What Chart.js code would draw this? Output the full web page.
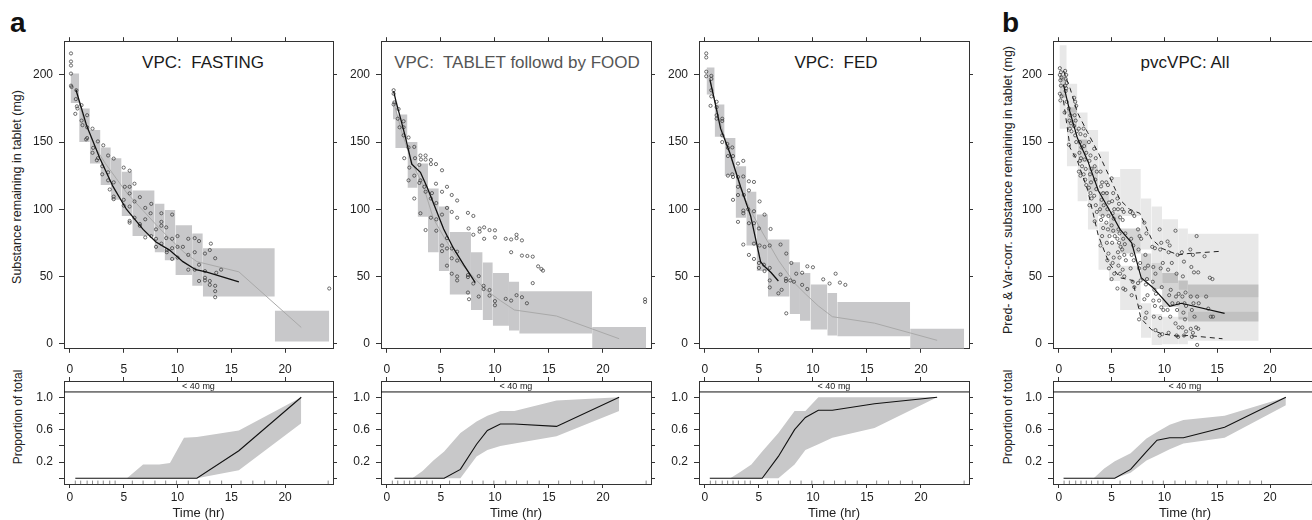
<!DOCTYPE html>
<html>
<head>
<meta charset="utf-8">
<script src="https://cdn.jsdelivr.net/npm/chart.js@4.4.1/dist/chart.umd.min.js"></script>
<style>
  body { margin: 0; width: 1312px; height: 520px; overflow: hidden; background: #fff; position: relative;
         font-family: "Liberation Sans", Arial, sans-serif; color: #222; }
  canvas { position: absolute; }
  .letter { position: absolute; top: 9px; font-size: 28px; font-weight: bold; line-height: 1; color: #111; }
  .ttl { position: absolute; top: 54px; font-size: 17px; line-height: 1; white-space: pre; transform: translateX(-50%); color: #1a1a1a; }
  .ytitle { position: absolute; white-space: nowrap; line-height: 1; transform: translate(-50%, -50%) rotate(-90deg); color: #222; }
  .strip { position: absolute; top: 381px; height: 11px; line-height: 11px; font-size: 9px; text-align: center; color: #222; }
</style>
</head>
<body>
<div class="letter" style="left:10px">a</div>
<div class="letter" style="left:1002px">b</div>

<div class="ttl" style="left:203px">VPC:  FASTING</div>
<div class="ttl" style="left:517px;color:#555">VPC:  TABLET followd by FOOD</div>
<div class="ttl" style="left:836px">VPC:  FED</div>
<div class="ttl" style="left:1185px">pvcVPC: All</div>

<div class="ytitle" style="left:17px;top:187px;font-size:12.5px">Substance remaining in tablet (mg)</div>
<div class="ytitle" style="left:1008px;top:190px;font-size:12.5px">Pred- &amp; Var-corr. substance remaining in tablet (mg)</div>
<div class="ytitle" style="left:18px;top:417px;font-size:12px">Proportion of total</div>
<div class="ytitle" style="left:1008px;top:417px;font-size:12px">Proportion of total</div>

<script>
//----------------------------------DATA-------------------------------------

const timeTicks = [0, 5, 10, 15, 20];
const amountTicks = [0, 50, 100, 150, 200];
const propTicks = [0, 0.2, 0.4, 0.6, 0.8, 1.0];
const propTickLabels = ['', '0.2', '', '0.6', '', '1.0'];
const rugTimes = [0.5, 1, 1.6, 2.1, 2.6, 3.1, 3.7, 4.2, 5.8, 6.8, 7.9, 8.9, 9.9, 11, 12, 13, 14.1, 15.9, 17, 18.1, 19.2, 24];

// FASTING
const fastBinStart = [0.06, 0.86, 1.85, 2.84, 3.8, 4.8, 5.8, 7.87, 8.8, 9.8, 11.36, 12.35, 19.04];
const fastBinEnd   = [0.86, 1.85, 2.84, 3.8, 4.8, 5.8, 7.87, 8.8, 9.8, 11.36, 12.35, 19.04, 24.1];
const fastCiLow    = [179, 150, 134, 118, 107, 95, 80, 68, 62, 51, 43, 35, 1.5];
const fastCiHigh   = [201, 175, 159, 146, 138, 128, 114, 104, 99.5, 88, 82, 71, 24.4];
const fastSimTime  = [0.5, 1.35, 2.35, 3.3, 4.3, 5.3, 6.8, 8.3, 9.3, 10.6, 11.8, 15.7, 21.5];
const fastSimMed   = [190, 165, 146, 134, 123, 112, 99, 86, 78, 68, 61, 53.4, 12];
const fastObsTime  = [0.56, 1.54, 2.78, 4.0, 5.25, 6.8, 8.0, 9.26, 10.5, 11.7, 12.65, 15.7];
const fastObsMed   = [189, 162.6, 138, 117, 100, 85, 75.6, 69.6, 61, 55, 53.4, 46];
const fastPoints = [
  [0.1,216],[0.1,210],[0.1,207],[0.1,201],[0.1,192],[0.15,191],[0.6,188.6],[0.55,182],[0.65,176.6],[0.5,171],[0.7,175],
  [1.08,177.5],[1.6,170],[1.08,166],[1.17,162.6],[1.6,161],[2.1,160],[1.6,153],[1.5,152],
  [2.16,145.7],[2.1,142],[2.6,150.5],[3.1,147.6],[2.6,138],[2.5,136.5],[3.55,140],[4.07,137.7],[3.0,132],[3.0,126],
  [3.55,127.5],[3.55,121.5],[3.7,114.7],[4.07,120],[4.07,109.4],[4.07,107.5],
  [5.0,131],[5.55,128.7],[5.1,116.7],[5.55,116.7],[6.0,119],[5.55,111.8],[5.0,107],[5.0,102.7],[5.55,102],[6.0,105.8],
  [5.55,91.3],[5.55,90],[6.0,93.7],[6.5,109],[6.5,89],[6.5,87.7],[7.0,101],[7.56,104],[7.0,92.5],[7.5,97],[7.0,79],
  [7.56,80],[8.0,85],[8.0,78],[8.0,72],[8.5,97],[8.5,90.6],[8.5,87.7],[8.95,86.5],[8.5,74.4],[8.95,78.5],[9.0,69.6],
  [9.0,68],[9.5,96],[9.5,78],[9.5,71],[9.5,63],[10.0,80],[10.0,72],[10.0,64],[10.5,72],[11.0,78],[11.6,78.5],[12.0,76.3],
  [11.0,66],[11.6,68],[11.0,55],[11.6,55],[12.0,58.7],[12.0,46.6],[12.55,53.9],[12.55,49],[12.55,47],[12.55,67],
  [13.1,74.4],[13.0,69.6],[13.0,46.6],[13.0,43.7],[13.5,63.5],[13.5,43],[13.5,39],[13.5,34.5],[13.6,52.7],[14.05,55],[24.1,41]
];
const fastPropTime = [0.5, 1.35, 2.35, 3.3, 4.3, 5.3, 6.8, 8.3, 9.3, 10.6, 11.8, 15.7, 21.5];
const fastPropObs  = [0, 0, 0, 0, 0, 0, 0, 0, 0, 0, 0, 0.34, 1.0];
const fastPropHigh = [0, 0, 0, 0, 0, 0, 0.17, 0.17, 0.19, 0.5, 0.51, 0.59, 1.0];
const fastPropLow  = [0, 0, 0, 0, 0, 0, 0, 0, 0, 0, 0, 0.1, 0.68];

// TABLET followed by FOOD
const tabBinStart = [0.56, 0.77, 1.9, 2.84, 3.8, 4.8, 5.8, 7.78, 8.86, 9.8, 11.3, 12.25, 19.0];
const tabBinEnd   = [0.98, 1.9, 2.84, 3.8, 4.8, 5.8, 7.78, 8.86, 9.8, 11.3, 12.25, 19.0, 24.0];
const tabCiLow    = [167, 145.6, 116, 94.5, 68, 54, 36.5, 25, 17.6, 13.3, 9.7, 7.5, -3.4];
const tabCiHigh   = [180, 170.5, 150, 134, 115.5, 102, 83, 68, 60.4, 52.6, 46, 39, 12.3];
const tabSimTime  = [0.75, 1.35, 2.35, 3.3, 4.3, 5.3, 6.8, 8.3, 9.3, 10.5, 11.8, 15.7, 21.5];
const tabSimMed   = [176, 158, 134, 119, 93, 79, 60, 47, 39, 32, 25, 20.5, 3.6];
const tabObsTime  = [0.62, 0.86, 1.23, 1.7, 2.3, 3.1, 3.7, 4.3, 5.25, 6.17, 7.1, 8.18];
const tabObsMed   = [188, 179.5, 168.6, 154, 133.6, 127.5, 116.7, 104.6, 85.3, 70.8, 58.7, 45.4];
const tabPoints = [
  [0.62,188.6],[0.62,186],[0.68,179.5],[0.62,178],[1.08,174.6],[1.0,167.4],[1.17,161],[1.54,165.5],[1.54,161],[1.54,155],
  [2.0,153.4],[2.0,146],[2.53,146.4],[1.6,138],[2.6,138],[2.07,131],[3.1,140],[3.15,137],[3.58,140],[3.58,137],[4.07,136.7],
  [4.07,133.6],[4.54,133.6],[5.1,129],[3.0,133],[2.53,125],[2.0,121.5],[3.1,121.5],[3.0,119.6],[3.46,116.7],[4.17,112],
  [4.54,119],[5.1,113],[5.56,116.7],[2.53,108],[3.1,97],[4.07,108],[3.58,113],[4.07,93.7],[4.57,104.6],[4.57,92.5],[5.1,96],
  [5.56,101],[6.0,98],[6.5,93.7],[6.0,110.6],[6.5,106.5],[3.58,84.5],[4.57,84],[5.1,73],[5.1,68.8],[5.56,78.5],[5.56,70.8],
  [6.0,70.8],[6.0,63.5],[6.5,68.4],[6.5,61.8],[5.56,58],[6.0,52],[6.5,50],[6.5,47],[7.5,97.3],[8.0,95],[7.56,85.7],[8.0,81],
  [8.58,83.3],[8.58,85.7],[9.0,86.5],[9.5,84.5],[10.0,84.3],[9.0,78],[10.0,79],[11.0,78],[11.5,77.5],[12.0,81],[12.0,78.5],
  [12.5,76.8],[11.5,68],[12.5,65.5],[13.0,65.2],[13.5,64.7],[14.0,57.5],[14.45,54.3],[14.3,55.5],[13.5,45],[7.5,51],[7.5,49.5],
  [8.0,44.7],[8.5,50.2],[7.5,38],[7.6,33],[8.5,35],[8.95,43],[8.95,40.6],[9.5,39.9],[9.5,35.7],[10.0,31.6],[10.0,28.5],
  [11.0,33.3],[11.5,32],[12.0,36],[12.5,34.5],[12.96,30],[23.9,33],[23.9,31]
];
const tabPropTime = [0.7, 1.35, 2.35, 3.3, 4.3, 5.3, 6.8, 8.3, 9.3, 10.5, 11.8, 15.7, 21.5];
const tabPropObs  = [0, 0, 0, 0, 0, 0, 0.11, 0.42, 0.59, 0.67, 0.67, 0.64, 1.0];
const tabPropHigh = [0, 0, 0, 0.09, 0.22, 0.33, 0.56, 0.7, 0.77, 0.83, 0.83, 0.96, 1.0];
const tabPropLow  = [0, 0, 0, 0, 0, 0, 0, 0.27, 0.35, 0.4, 0.43, 0.52, 0.83];

// FED
const fedBinStart = [0.15, 0.9, 1.82, 2.84, 3.83, 4.78, 5.83, 7.84, 8.8, 9.78, 11.33, 12.25, 19.0];
const fedBinEnd   = [0.9, 1.82, 2.84, 3.83, 4.78, 5.83, 7.84, 8.8, 9.78, 11.33, 12.25, 19.0, 24.0];
const fedCiLow    = [185.5, 154, 125, 93.7, 73, 54, 35, 22, 17, 10.4, 6, 5.5, -4];
const fedCiHigh   = [205.6, 178, 153, 132, 113, 96, 77.5, 60.6, 52.6, 44, 37.7, 31, 11];
const fedSimTime  = [0.5, 1.35, 2.35, 3.3, 4.3, 5.3, 6.8, 8.3, 9.3, 10.5, 11.8, 15.7, 21.5];
const fedSimMed   = [195, 166, 140, 115, 98, 83, 62, 45, 37, 28, 20, 15.2, 2.4];
const fedObsTime  = [0.46, 0.9, 1.45, 2.3, 3.3, 4.23, 5.15, 5.5, 6.14, 6.8];
const fedObsMed   = [196.4, 180.7, 160, 142, 116.7, 95, 61, 57.5, 52.7, 46.6];
const fedPoints = [
  [0.12,216],[0.12,213],[0.12,202.4],[0.12,199],[0.59,199.3],[0.59,197],[0.59,188.6],[0.59,184],[0.52,177],[1.08,180],
  [1.08,176],[1.08,170],[1.08,167.4],[1.6,167.4],[1.6,165.7],[1.6,155],[1.6,150],[2.07,148.6],[2.13,145.7],[2.13,139.6],
  [2.13,125],[2.53,146],[2.6,139.6],[2.53,126],[2.6,124],[3.06,134],[3.55,136],[3.06,124],[3.06,116.7],[3.55,124.4],
  [3.06,110.6],[2.6,107],[4.07,120.8],[4.54,120.3],[4.07,114],[3.6,110.6],[3.55,99],[3.55,97],[4.0,100],[4.54,98.5],
  [3.06,90.6],[4.07,89.6],[4.54,89.6],[5.06,105.8],[5.52,96],[5.0,85.7],[6.08,85.3],[3.55,73.7],[4.54,74.4],[5.06,73],
  [5.52,72],[6.0,73],[4.07,66],[4.54,63],[5.0,60],[5.0,56.3],[5.46,58.7],[5.52,54],[6.0,56.3],[6.0,47],[6.0,41.8],
  [7.0,73.7],[7.53,67],[8.0,60],[7.0,51.4],[7.5,48.3],[7.5,46.6],[7.9,47],[8.24,46],[8.45,52],[9.0,52.7],[9.0,43.7],
  [9.48,40.6],[9.48,57.5],[10.0,56.8],[6.8,37.4],[7.1,40],[7.53,22.5],[10.95,47.8],[11.54,44.7],[12.1,52],[12.5,45.4],[13.0,43.7]
];
const fedPropTime = [0.45, 1.35, 2.35, 3.3, 4.3, 5.3, 6.8, 8.3, 9.3, 10.5, 11.8, 15.7, 21.5];
const fedPropObs  = [0, 0, 0, 0, 0, 0, 0.27, 0.6, 0.75, 0.84, 0.84, 0.92, 1.0];
const fedPropHigh = [0, 0, 0, 0.08, 0.17, 0.33, 0.56, 0.83, 0.83, 1.0, 1.0, 1.0, 1.0];
const fedPropLow  = [0, 0, 0, 0, 0, 0, 0, 0.17, 0.35, 0.42, 0.5, 0.62, 1.0];

// pvcVPC: All
const allBinStart = [0.06, 0.75, 1.76, 2.74, 3.74, 4.75, 5.8, 7.77, 8.77, 9.78, 11.3, 12.23];
const allBinEnd   = [0.75, 1.76, 2.74, 3.74, 4.75, 5.8, 7.77, 8.77, 9.78, 11.3, 12.23, 18.93];
const allP95Low   = [195, 172, 148, 132, 112, 97, 95, 70, 60, 45, 40, 34.5];
const allP95High  = [222, 193.5, 172, 159, 143, 124, 130, 108, 102, 92.5, 85.7, 81.7];
const allMedLow   = [183, 160, 135, 113, 95, 82, 67, 46.6, 40.6, 27.3, 18, 16.4];
const allMedHigh  = [200, 176, 152, 132, 113, 97, 85.7, 67, 60, 52.6, 47, 44];
const allP5Low    = [160, 132, 106, 85, 55, 46.6, 25, 4.3, -1, -0.5, -0.5, 2];
const allP5High   = [186, 158, 135, 113, 90, 75, 58, 30, 22, 20, 20, 23.7];
const allObsTime  = [0.44, 1.07, 1.76, 2.74, 3.74, 4.75, 5.8, 6.9, 7.8, 8.9, 10.5, 11.6, 15.7];
const allObsMed   = [192.8, 172, 153, 136, 114, 100, 85, 75, 49, 41.8, 27.8, 30, 22.5];
const allP95Time  = [0.44, 1.07, 1.76, 2.74, 3.74, 4.75, 5.8, 6.7, 7.67, 8.77, 9.78, 11.3, 12.23, 15.5];
const allObsP95   = [203, 190, 172, 157, 142, 125, 107, 100, 97, 78, 70.8, 66, 67, 68.8];
const allP5Time   = [0.44, 1.07, 1.76, 2.74, 3.74, 4.75, 5.8, 7.0, 7.77, 8.77, 9.78, 11.3, 12.23, 15.5];
const allObsP5    = [181, 145.7, 136, 114, 80.4, 60, 49, 47, 18.8, 10.4, 7.2, 5.5, 6, 3.6];
const allPoints = [
  [0.1,205],[0.2,202],[0.1,200],[0.25,198],[0.15,196],[0.2,192],[0.1,186],[0.25,184],[0.15,181],
  [0.6,203],[0.7,200],[0.65,197],[0.75,194],[0.6,192],[0.7,190],[0.65,188],[0.75,180],[0.55,172],
  [0.95,175],[1.1,170],[1.0,166],[1.15,164],[1.05,160],[1.2,158],[0.95,148],
  [1.45,183],[1.55,180],[1.65,177],[1.5,170],[1.6,166],[1.45,162],[1.7,158],[1.55,155],[1.65,150],[1.5,140],
  [1.9,160],[2.05,156],[2.0,150],[2.15,146],[1.95,142],[2.1,138],[2.0,136],[2.2,132],[1.9,128],[2.05,125],
  [2.35,160],[2.5,155],[2.4,147],[2.6,142],[2.45,137],[2.55,130],[2.35,126],[2.5,122],[2.6,118],
  [2.85,150],[3.0,140],[2.9,136],[3.1,130],[2.95,126],[3.05,120],[2.85,116],[3.0,112],[3.1,108],[2.9,103],
  [3.35,145],[3.5,138],[3.4,132],[3.6,128],[3.45,122],[3.55,115],[3.35,110],[3.5,103],[3.6,98],[3.4,91],
  [3.95,128],[4.1,120],[4.0,117],[4.2,112],[4.05,107],[4.25,103],[3.9,100],[4.15,95],[4.0,92],[4.2,86],[4.1,80],[3.95,73],
  [4.5,120],[4.65,118],[4.55,112],[4.75,105],[4.6,100],[4.7,95],[4.5,90],[4.65,85],[4.8,80],[4.55,75],[4.7,67],[4.6,62],[4.75,56],
  [5.0,123],[5.15,112],[5.05,106],[5.25,100],[5.1,97],[5.2,93],[5.0,88],[5.15,84],[5.3,80],[5.05,75],[5.2,64],[5.1,60],[5.25,52],[5.0,48],
  [5.55,108],[5.7,104],[5.6,100],[5.8,94],[5.65,85],[5.75,82],[5.55,78],[5.7,75],[5.85,72],[5.6,68],[5.75,64],[5.65,58],[5.8,52],[5.55,41],
  [6.0,100],[6.15,98],[6.05,92],[6.3,82],[6.1,78],[6.25,74],[6.0,70],[6.2,66],[6.35,62],[6.05,55],[6.2,50],[6.1,41],[6.3,40],
  [6.75,98],[7.0,97],[7.15,95],[6.85,78],[7.05,73],[6.9,66],[7.1,62],[6.8,56],[7.0,46],[7.15,42],[6.9,36],
  [7.5,85],[7.65,80],[7.8,78],[7.55,70],[7.7,60],[7.6,56],[7.75,47],[7.5,45],[7.7,27],[7.6,18],
  [8.1,90],[8.3,82],[8.2,66],[8.45,58],[8.15,56],[8.35,48],[8.25,44],[8.4,36],[8.1,33],[8.3,23],[8.2,19],
  [8.85,72],[9.1,71],[8.95,57],[9.15,52],[8.9,46],[9.05,40],[9.2,37],[8.95,32],[9.1,28],[9.0,20],[9.15,10],
  [9.55,85],[9.7,75],[9.6,70],[9.85,60],[9.65,56],[9.75,42],[9.5,32],[9.7,27],[9.9,25],[9.6,19],[9.8,7],[9.55,6],
  [10.3,76],[10.5,73],[10.4,68],[10.7,60],[10.35,55],[10.6,40],[10.45,36],[10.75,30],[10.3,25],[10.55,20],[10.4,8],
  [11.05,84],[11.25,66],[11.15,52],[11.35,37],[11.1,35],[11.3,30],[11.2,25],[11.05,15],[11.35,12],[11.15,6],[11.3,5],
  [11.65,68],[11.85,61],[11.75,50],[12.0,38],[11.7,35],[11.9,30],[12.05,28],[11.8,23],[11.95,18],[11.7,12],[12.05,9],[11.85,6],
  [12.45,70],[12.7,66],[12.55,57],[12.8,53],[12.5,35],[12.75,30],[12.6,25],[12.85,20],[12.5,11],[12.7,8],[12.6,5],
  [13.05,80],[13.2,53],[13.1,35],[13.25,30],[13.0,12],[13.2,11],[13.1,-1],
  [13.8,65],[14.3,49],[14.55,48],[13.95,35],[14.15,26],[14.4,20],[14.6,20]
];
const allPropTime = [0.45, 1.35, 2.35, 3.3, 4.3, 5.3, 6.8, 8.3, 9.3, 10.5, 11.8, 15.7, 21.5];
const allPropObs  = [0, 0, 0, 0, 0, 0, 0.11, 0.33, 0.47, 0.5, 0.5, 0.63, 1.0];
const allPropHigh = [0, 0, 0, 0, 0.12, 0.21, 0.31, 0.49, 0.57, 0.66, 0.72, 0.77, 1.0];
const allPropLow  = [0, 0, 0, 0, 0, 0, 0.07, 0.22, 0.28, 0.36, 0.43, 0.5, 0.9];

//----------------------------------LAYOUT-------------------------------------

Chart.defaults.font.family = '"Liberation Sans", Arial, sans-serif';
Chart.defaults.font.size = 12;
Chart.defaults.color = '#222';

const X_MIN = -0.55, X_MAX = 24.45;
const AXIS = '#333';
const STRIP_Y = 1.065;   // line under the "< 40 mg" strip
const RUG_Y = -0.05;

// canvas columns: left edge, width, left axis width, right axis width
const columns = [
  { left: 0,   width: 342, yw: 64, y2w: 9 },
  { left: 342, width: 318, yw: 39, y2w: 9 },
  { left: 660, width: 318, yw: 39, y2w: 9 },
  { left: 978, width: 352, yw: 75, y2w: 13 }
];

const pairs = (xs, ys) => xs.map((x, i) => ({ x: x, y: ys[i] }));
const pts = list => list.map(p => ({ x: p[0], y: p[1] }));

function makeCanvas(col, top, height) {
  const c = document.createElement('canvas');
  c.width = col.width;
  c.height = height;
  c.style.left = col.left + 'px';
  c.style.top = top + 'px';
  document.body.appendChild(c);
  return c;
}

function xScale(position, height, showLabels, padding, title) {
  return {
    type: 'linear', position: position, min: X_MIN, max: X_MAX,
    afterBuildTicks: s => { s.ticks = timeTicks.map(v => ({ value: v })); },
    afterFit: s => { s.height = height; },
    grid: { drawOnChartArea: false, drawTicks: true, tickLength: 4, color: AXIS },
    border: { display: true, color: AXIS, width: 1 },
    ticks: { display: showLabels, padding: padding, autoSkip: false, maxRotation: 0, callback: v => String(v) },
    title: title
      ? { display: true, text: title, color: '#222', font: { size: 13, lineHeight: 1 }, padding: { top: 0, bottom: 0 } }
      : { display: false }
  };
}

function yScale(position, width, min, max, tickVals, labels) {
  return {
    type: 'linear', position: position, min: min, max: max,
    afterBuildTicks: s => { s.ticks = tickVals.map(v => ({ value: v })); },
    afterFit: s => { s.width = width; },
    grid: { drawOnChartArea: false, drawTicks: true, tickLength: position === 'left' ? 5 : 4, color: AXIS },
    border: { display: true, color: AXIS, width: 1 },
    ticks: { display: !!labels, padding: 6, autoSkip: false, callback: (v, i) => labels ? labels[i] : '' }
  };
}

function boxSets(starts, ends, lows, highs, color) {
  return starts.map((s, i) => ({
    type: 'line',
    data: [{ x: s, y: highs[i] }, { x: ends[i], y: highs[i] }],
    fill: { value: lows[i] },
    backgroundColor: color,
    borderColor: 'rgba(0,0,0,0)',
    borderWidth: 0,
    pointRadius: 0
  }));
}

function lineSet(xs, ys, color, width, dash) {
  return {
    type: 'line', data: pairs(xs, ys), borderColor: color, borderWidth: width,
    borderDash: dash || [], pointRadius: 0, fill: false, tension: 0
  };
}

function scatterSet(list) {
  return {
    type: 'scatter', data: pts(list), showLine: false,
    pointStyle: 'circle', pointRadius: 1.6, pointBorderWidth: 0.7,
    pointBorderColor: '#333', pointBackgroundColor: 'rgba(0,0,0,0)'
  };
}

const baseOptions = {
  responsive: false, animation: false, devicePixelRatio: 1, events: [],
  layout: { padding: 0 },
  plugins: { legend: { display: false }, tooltip: { enabled: false } }
};

function makeTop(col, datasets) {
  const canvas = makeCanvas(col, 28, 334);
  return new Chart(canvas, {
    type: 'scatter',
    data: { datasets: datasets },
    options: Object.assign({}, baseOptions, {
      scales: {
        x:  xScale('bottom', 9, false, 0),
        x2: xScale('top', 9, false, 0),
        y:  yScale('left', col.yw, -3.9, 225.1, amountTicks, amountTicks.map(String)),
        y2: yScale('right', col.y2w, -3.9, 225.1, amountTicks, null)
      }
    })
  });
}

function makeBottom(col, time, obs, low, high) {
  const canvas = makeCanvas(col, 358, 162);
  const datasets = [
    lineSet(time, obs, '#111', 1.1),
    lineSet([X_MIN, X_MAX], [STRIP_Y, STRIP_Y], '#111', 1),
    {
      type: 'scatter', data: rugTimes.map(t => ({ x: t, y: RUG_Y })), showLine: false,
      pointStyle: 'line', pointRotation: 90, pointRadius: 1.8, pointBorderWidth: 1, pointBorderColor: '#8a8a8a'
    },
    { type: 'line', data: pairs(time, low), borderColor: 'rgba(0,0,0,0)', borderWidth: 0, pointRadius: 0, fill: false },
    { type: 'line', data: pairs(time, high), borderColor: 'rgba(0,0,0,0)', borderWidth: 0, pointRadius: 0,
      fill: '-1', backgroundColor: '#c8c8c9' }
  ];
  return new Chart(canvas, {
    type: 'scatter',
    data: { datasets: datasets },
    options: Object.assign({}, baseOptions, {
      scales: {
        x:  xScale('bottom', 36, true, 2, 'Time (hr)'),
        x2: xScale('top', 23, true, 0),
        y:  yScale('left', col.yw, -0.07, 1.2, propTicks, propTickLabels),
        y2: yScale('right', col.y2w, -0.07, 1.2, propTicks, null)
      }
    })
  });
}

function stripLabel(col) {
  const d = document.createElement('div');
  d.className = 'strip';
  d.textContent = '< 40 mg';
  d.style.left = (col.left + col.yw) + 'px';
  d.style.width = (col.width - col.yw - col.y2w) + 'px';
  document.body.appendChild(d);
}

//----------------------------------CHARTS-------------------------------------

const BOX = '#c8c8ca';
const SIM = '#a9a9a9';

makeTop(columns[0], [
  lineSet(fastObsTime, fastObsMed, '#111', 1.3),
  scatterSet(fastPoints),
  lineSet(fastSimTime, fastSimMed, SIM, 1),
  ...boxSets(fastBinStart, fastBinEnd, fastCiLow, fastCiHigh, BOX)
]);
makeTop(columns[1], [
  lineSet(tabObsTime, tabObsMed, '#111', 1.3),
  scatterSet(tabPoints),
  lineSet(tabSimTime, tabSimMed, SIM, 1),
  ...boxSets(tabBinStart, tabBinEnd, tabCiLow, tabCiHigh, BOX)
]);
makeTop(columns[2], [
  lineSet(fedObsTime, fedObsMed, '#111', 1.3),
  scatterSet(fedPoints),
  lineSet(fedSimTime, fedSimMed, SIM, 1),
  ...boxSets(fedBinStart, fedBinEnd, fedCiLow, fedCiHigh, BOX)
]);
makeTop(columns[3], [
  lineSet(allObsTime, allObsMed, '#111', 1.2),
  lineSet(allP95Time, allObsP95, '#222', 1, [5, 4]),
  lineSet(allP5Time, allObsP5, '#222', 1, [5, 4]),
  scatterSet(allPoints),
  ...boxSets(allBinStart, allBinEnd, allMedLow, allMedHigh, 'rgba(0,0,0,0.17)'),
  ...boxSets(allBinStart, allBinEnd, allP95Low, allP95High, 'rgba(0,0,0,0.09)'),
  ...boxSets(allBinStart, allBinEnd, allP5Low, allP5High, 'rgba(0,0,0,0.09)')
]);

makeBottom(columns[0], fastPropTime, fastPropObs, fastPropLow, fastPropHigh);
makeBottom(columns[1], tabPropTime, tabPropObs, tabPropLow, tabPropHigh);
makeBottom(columns[2], fedPropTime, fedPropObs, fedPropLow, fedPropHigh);
makeBottom(columns[3], allPropTime, allPropObs, allPropLow, allPropHigh);

columns.forEach(stripLabel);
</script>
</body>
</html>
